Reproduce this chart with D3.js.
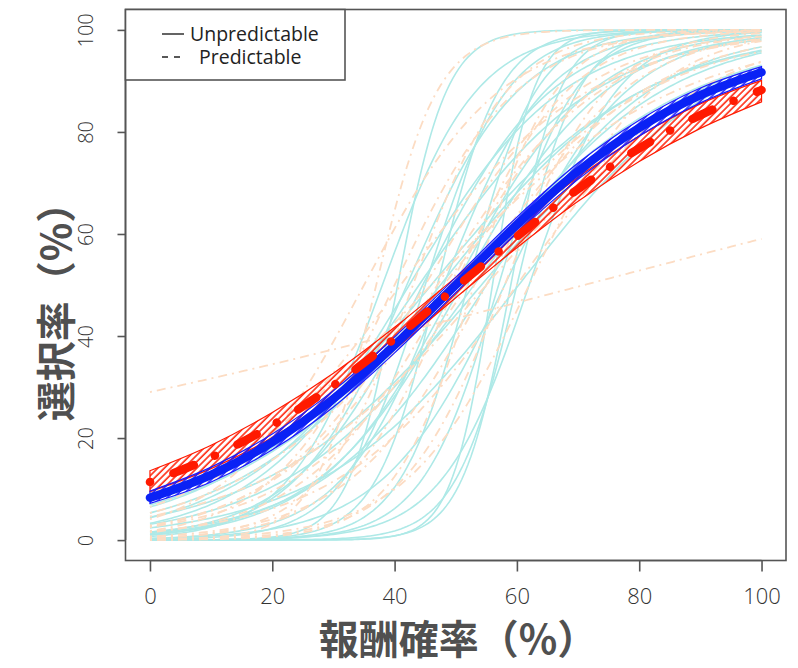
<!DOCTYPE html>
<html><head><meta charset="utf-8">
<script src="https://cdn.jsdelivr.net/npm/d3@7"></script>
<style>body{margin:0;background:#fff} svg{display:block}</style></head>
<body>
<svg id="c" width="798" height="668"></svg>
<script>
// ---- data ----
const xTickValues = [0, 20, 40, 60, 80, 100];
const yTickValues = [0, 20, 40, 60, 80, 100];
const legendLabels = ["Unpredictable", "Predictable"];
const xTitle = "報酬確率（%）";
const yTitle = "選択率（%）";

// individual fitted logistic curves (midpoint in %, slope per %)
const unpredMid   = [47.5, 54.2, 42.4, 60.3, 44.6, 40.5, 56, 52, 45, 48, 58, 50, 55, 42, 62, 47, 53, 38, 60, 44, 50, 59, 51, 46, 57];
const unpredSlope = [0.0606, 0.0564, 0.0798, 0.0615, 0.0954, 0.25, 0.30, 0.18, 0.15, 0.12, 0.10, 0.09, 0.075, 0.11, 0.14, 0.20, 0.065, 0.13, 0.20, 0.07, 0.052, 0.25, 0.085, 0.058, 0.16];
const predMid   = [71, 37, 40, 45, 48, 52, 55, 43, 50, 60, 46, 53, 62, 35, 49, 55, 41, 58, 47];
const predSlope = [0.0126, 0.20, 0.10, 0.08, 0.06, 0.07, 0.09, 0.13, 0.11, 0.068, 0.05, 0.15, 0.10, 0.09, 0.085, 0.055, 0.065, 0.12, 0.075];

// group curves and their confidence bands, read at these reward probabilities
const gridX = [0, 10, 20, 30, 40, 50, 60, 70, 80, 90, 100];
const unpredMean  = [8.3, 12.8, 19.2, 27.7, 38.2, 50.0, 61.8, 72.3, 80.8, 87.2, 91.7];
const unpredUpper = [9.6, 14.3, 20.8, 29.3, 39.8, 51.5, 63.3, 73.9, 82.3, 88.6, 92.8];
const unpredLower = [7.2, 11.4, 17.7, 26.1, 36.7, 48.5, 60.2, 70.7, 79.2, 85.7, 90.4];
const predMean  = [11.4, 16.2, 22.5, 30.3, 39.5, 49.5, 59.5, 68.8, 76.8, 83.3, 88.2];
const predUpper = [13.6, 18.6, 25.0, 32.7, 41.7, 51.5, 61.7, 71.1, 79.2, 85.5, 90.1];
const predLower = [9.5, 14.0, 20.1, 28.0, 37.4, 47.5, 57.3, 66.4, 74.2, 80.7, 85.9];

// ---- drawing ----
const svg = d3.select("#c");
const x = d3.scaleLinear().domain([-4, 104]).range([125.5, 786]);
const y = d3.scaleLinear().domain([-4, 104]).range([560.5, 9.5]);
const axisColor = "#555";
const tickFont = "'Open Sans', 'Noto Sans', sans-serif";

const defs = svg.append("defs");
function hatch(id, color) {
  defs.append("pattern").attr("id", id).attr("patternUnits", "userSpaceOnUse")
    .attr("width", 4.6).attr("height", 4.6).attr("patternTransform", "rotate(45)")
    .append("line").attr("x1", 1).attr("y1", 0).attr("x2", 1).attr("y2", 4.6)
    .attr("stroke", color).attr("stroke-width", 1.5);
}
hatch("hatchR", "#ff1a00");
hatch("hatchB", "#1a1aff");

const xs = d3.range(0, 100.01, 0.5);
const logistic = (m, k) => xs.map(v => [v, 100 / (1 + Math.exp(-k * (v - m)))]);
const line = d3.line().x(d => x(d[0])).y(d => y(d[1]));
const smooth = d3.line().x(d => x(d[0])).y(d => y(d[1])).curve(d3.curveMonotoneX);

const gSub = svg.append("g");
unpredMid.forEach((m, i) => {
  gSub.append("path").attr("d", line(logistic(m, unpredSlope[i])))
    .attr("fill", "none").attr("stroke", "#aee9e7").attr("stroke-width", 1.6);
});
predMid.forEach((m, i) => {
  gSub.append("path").attr("d", line(logistic(m, predSlope[i])))
    .attr("fill", "none").attr("stroke", "#fcdcc3").attr("stroke-width", 1.8)
    .attr("stroke-dasharray", "2,5,9,5");
});

function band(upper, lower, fillId, color) {
  const up = gridX.map((v, i) => [v, upper[i]]);
  const lo = gridX.map((v, i) => [v, lower[i]]);
  const area = d3.area().x(d => x(d[0])).y0((d, i) => y(lo[i][1])).y1(d => y(d[1])).curve(d3.curveMonotoneX);
  svg.append("path").attr("d", area(up)).attr("fill", `url(#${fillId})`)
    .attr("stroke", color).attr("stroke-width", 1.2);
}
band(predUpper, predLower, "hatchR", "#ff1a00");
band(unpredUpper, unpredLower, "hatchB", "#1a1aff");

svg.append("path").attr("d", smooth(gridX.map((v, i) => [v, unpredMean[i]])))
  .attr("fill", "none").attr("stroke", "#0a22f5").attr("stroke-width", 8.5).attr("stroke-linecap", "round");
svg.append("path").attr("d", smooth(gridX.map((v, i) => [v, predMean[i]])))
  .attr("fill", "none").attr("stroke", "#ff1a00").attr("stroke-width", 8.5).attr("stroke-linecap", "round")
  .attr("stroke-dasharray", "0.1,25,22,23");

// box
svg.append("rect").attr("x", 125.5).attr("y", 9.5).attr("width", 660.5).attr("height", 551)
  .attr("fill", "none").attr("stroke", axisColor).attr("stroke-width", 1.6);

// axes
const gx = svg.append("g").attr("transform", "translate(0,560.5)")
  .call(d3.axisBottom(x).tickValues(xTickValues).tickSize(11).tickPadding(17));
gx.select(".domain").attr("d", `M${x(0)},0H${x(100)}`).attr("stroke", axisColor).attr("stroke-width", 1.6);
gx.selectAll(".tick line").attr("stroke", axisColor).attr("stroke-width", 1.6);
gx.selectAll(".tick text").attr("font-family", tickFont).attr("font-weight", 300).attr("font-size", 22).attr("fill", "#333");

const gy = svg.append("g").attr("transform", "translate(125.5,0)")
  .call(d3.axisLeft(y).tickValues(yTickValues).tickSize(8).tickPadding(0));
gy.select(".domain").attr("d", `M0,${y(0)}V${y(100)}`).attr("stroke", axisColor).attr("stroke-width", 1.6);
gy.selectAll(".tick line").attr("stroke", axisColor).attr("stroke-width", 1.6);
gy.selectAll(".tick text").attr("font-family", tickFont).attr("font-weight", 300).attr("font-size", 20).attr("fill", "#333")
  .attr("x", 0).attr("dy", 0).attr("text-anchor", "middle")
  .attr("transform", "translate(-38,0) rotate(-90)").attr("dominant-baseline", "middle");

// titles
svg.append("text").attr("x", 458).attr("y", 654).attr("text-anchor", "middle")
  .attr("font-family", "'Noto Sans CJK JP', sans-serif").attr("font-weight", "bold")
  .attr("font-size", 40).attr("fill", "#505050").text(xTitle);
svg.append("text").attr("transform", "translate(71,302) rotate(-90)").attr("text-anchor", "middle")
  .attr("font-family", "'Noto Sans CJK JP', sans-serif").attr("font-weight", "bold")
  .attr("font-size", 40).attr("fill", "#505050").text(yTitle);

// legend
const lg = svg.append("g");
lg.append("rect").attr("x", 125.5).attr("y", 9.5).attr("width", 219.5).attr("height", 70.5)
  .attr("fill", "#fff").attr("stroke", axisColor).attr("stroke-width", 1.6);
lg.append("line").attr("x1", 162).attr("x2", 184).attr("y1", 34).attr("y2", 34)
  .attr("stroke", "#222").attr("stroke-width", 1.4);
lg.append("line").attr("x1", 162).attr("x2", 184).attr("y1", 57).attr("y2", 57)
  .attr("stroke", "#222").attr("stroke-width", 1.4).attr("stroke-dasharray", "6,6");
lg.append("text").attr("x", 190).attr("y", 41).attr("font-family", tickFont).attr("font-size", 19.5)
  .attr("fill", "#222").text(legendLabels[0]);
lg.append("text").attr("x", 199).attr("y", 64).attr("font-family", tickFont).attr("font-size", 19.5)
  .attr("fill", "#222").text(legendLabels[1]);
</script>
</body></html>
